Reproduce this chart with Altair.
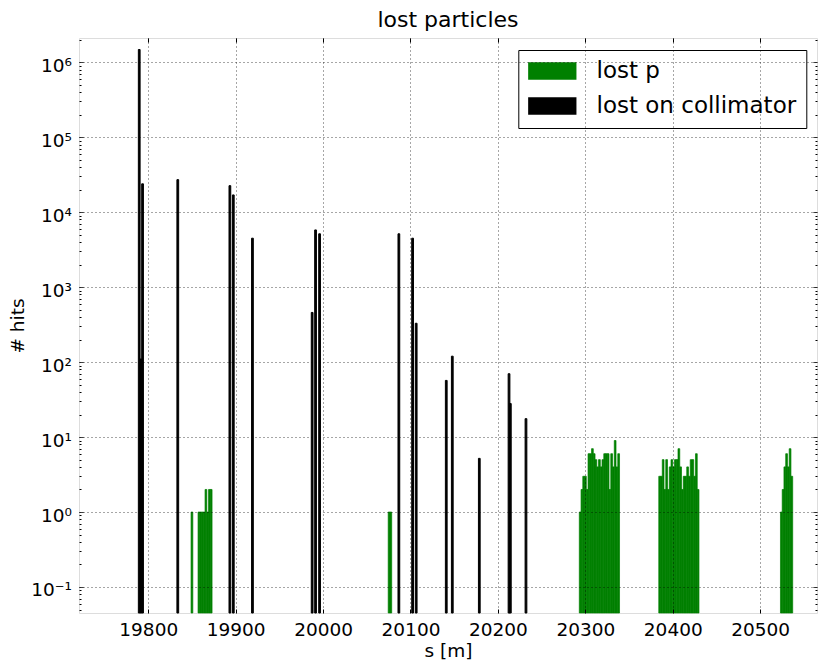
import altair as alt
import pandas as pd

# ---------------- data ----------------
categories = ["lost p", "lost on collimator"]
series_colors = ["#008000", "#000000"]

# lost on collimator: bin centre s [m] and number of hits
black_s = [19789.7, 19791.6, 19793.5, 19833.8, 19893.4, 19897.3, 19919.2,
           19987.5, 19991.4, 19996.0, 20086.7, 20102.4, 20106.5, 20140.9,
           20147.8, 20178.7, 20212.7, 20214.2, 20232.1]
black_hits = [1.48e6, 110, 23900, 27200, 22600, 17000, 4500,
              460, 5800, 5150, 5150, 4500, 330, 57,
              120, 5.2, 70, 28, 17.6]
black_bin = 2.0

# lost p: clusters of consecutive 2 m bins (start of cluster, hits per bin)
green_bin = 2.0
green_start = [19849.0, 19857.0, 20074.5, 20293.1, 20384.0, 20523.2]
green_hits = [
    [1],
    [1, 1, 1, 1, 2, 1, 2, 2],
    [1, 1],
    [1, 2, 3, 3, 2, 6, 6, 7, 6, 5, 4, 5, 4, 5, 6, 6, 6, 2, 6, 4, 9, 4, 6],
    [3, 3, 5, 2, 5, 2, 4, 5, 4, 5, 5, 7, 4, 2, 3, 3, 4, 3, 5, 5, 3, 6, 2],
    [1, 2, 4, 6, 4, 7, 3],
]

x_ticks = [19800, 19900, 20000, 20100, 20200, 20300, 20400, 20500]
y_major = [0.1, 1, 10, 100, 1000, 10000, 100000, 1000000]
y_minor_steps = [2, 3, 4, 5, 6, 7, 8, 9]

x_domain = [19720.8, 20565.0]
y_domain = [10 ** -1.347, 10 ** 6.324]

# ---------------- tables ----------------
g_rows = []
for start, hits in zip(green_start, green_hits):
    for i, h in enumerate(hits):
        g_rows.append({"s0": start + i * green_bin, "s1": start + (i + 1) * green_bin,
                       "hits": h, "base": y_domain[0], "series": categories[0]})
green_df = pd.DataFrame(g_rows)

black_df = pd.DataFrame({
    "s0": [s - black_bin / 2 for s in black_s],
    "s1": [s + black_bin / 2 for s in black_s],
    "hits": black_hits,
    "base": [y_domain[0]] * len(black_s),
    "series": [categories[1]] * len(black_s),
})

y_ticks = []
for d in [0.01] + y_major:
    y_ticks.append(d)
    for k in y_minor_steps:
        y_ticks.append(k * d)
y_ticks = sorted(v for v in y_ticks if y_domain[0] <= v <= y_domain[1])

# ---------------- chart ----------------
FONT = "DejaVu Sans"
W, H = 738, 575
PAD_L, PAD_T = 79, 38

is_major = "abs(log(datum.value)/LN10 - round(log(datum.value)/LN10)) < 0.01"
y_label_expr = (
    "(" + is_major + ") ? '10' + ['\u207b\u00b9','\u2070','\u00b9','\u00b2','\u00b3','\u2074','\u2075','\u2076']"
    "[round(log(datum.value)/LN10)+1] : ''"
)
minor_dash = {"condition": {"test": is_major, "value": [1, 0]}, "value": [0, 2, 2, 20]}

xscale = alt.Scale(domain=x_domain, nice=False, zero=False)
yscale = alt.Scale(type="log", domain=y_domain, nice=False)

color = alt.Color(
    "series:N",
    scale=alt.Scale(domain=categories, range=series_colors),
    legend=alt.Legend(
        orient="none", legendX=439.3, legendY=12, title=None, direction="vertical",
        symbolType="M-1,-0.358H1V0.358H-1Z", symbolSize=2333, symbolStrokeWidth=0,
        symbolOpacity=1, labelFont=FONT, labelFontSize=23, labelColor="black",
        labelOffset=19.7, rowPadding=11, padding=9.5, clipHeight=23,
        strokeColor="black", fillColor="white", cornerRadius=0, labelLimit=400,
    ),
)

green = alt.Chart(green_df).mark_bar(stroke="#008000", strokeWidth=0.7).encode(
    x=alt.X("s0:Q", scale=xscale, axis=alt.Axis(
        orient="bottom", values=x_ticks, format="d", title="s [m]",
        grid=True, gridColor="black", gridDash=[1, 3], gridOpacity=0.7, gridWidth=1,
        domain=False, ticks=True, tickSize=4, tickColor="black", tickWidth=1, offset=-4,
        labelFont=FONT, labelFontSize=18.5, labelColor="black", labelPadding=7,
        labelFlush=False, labelOverlap=False,
        titleFont=FONT, titleFontSize=18.5, titleFontWeight="normal", titleColor="black",
        titleY=41.5, titleBaseline="middle", zindex=1)),
    x2="s1:Q",
    y=alt.Y("hits:Q", scale=yscale, axis=alt.Axis(
        orient="left", values=y_ticks, labelExpr=y_label_expr, title="# hits",
        grid=True, gridColor="black", gridDash=[1, 3], gridWidth=1,
        gridOpacity={"condition": {"test": is_major, "value": 0.7}, "value": 0},
        domain=False, ticks=True, tickSize=4, tickColor="black", tickWidth=1,
        tickDash=minor_dash, offset=-4,
        labelFont=FONT, labelFontSize=18.5, labelColor="black", labelPadding=7.6,
        labelOverlap=False, labelOffset=3,
        titleFont=FONT, titleFontSize=18.5, titleFontWeight="normal", titleColor="black",
        titleX=-65.5, titleBaseline="middle", zindex=1)),
    y2="base:Q",
    color=color,
)

black = alt.Chart(black_df).mark_bar(stroke="black", strokeWidth=1).encode(
    x=alt.X("s0:Q", scale=xscale, axis=alt.Axis(
        orient="top", values=x_ticks, labels=False, title=None, grid=False,
        domain=False, ticks=True, tickSize=4, tickColor="black", tickWidth=1, offset=-4)),
    x2="s1:Q",
    y=alt.Y("hits:Q", scale=yscale, axis=alt.Axis(
        orient="right", values=y_ticks, labels=False, title=None, grid=False,
        domain=False, ticks=True, tickSize=4, tickColor="black", tickWidth=1,
        tickDash=minor_dash, offset=-4)),
    y2="base:Q",
    color=color,
)

chart = alt.layer(green, black).resolve_axis(
    x="independent", y="independent"
).properties(
    width=W, height=H,
    title=alt.TitleParams("lost particles", font=FONT, fontSize=22, fontWeight="normal",
                          color="black", anchor="middle", offset=2),
    autosize=alt.AutoSizeParams(type="none"),
    padding={"left": PAD_L, "top": PAD_T, "right": 818 - PAD_L - W, "bottom": 661 - PAD_T - H},
).configure_view(
    stroke="black", strokeWidth=1.2
).configure_legend(
    strokeWidth=1.2
).configure(background="white")

chart.save("out.html", embed_options={"renderer": "svg", "actions": False})
